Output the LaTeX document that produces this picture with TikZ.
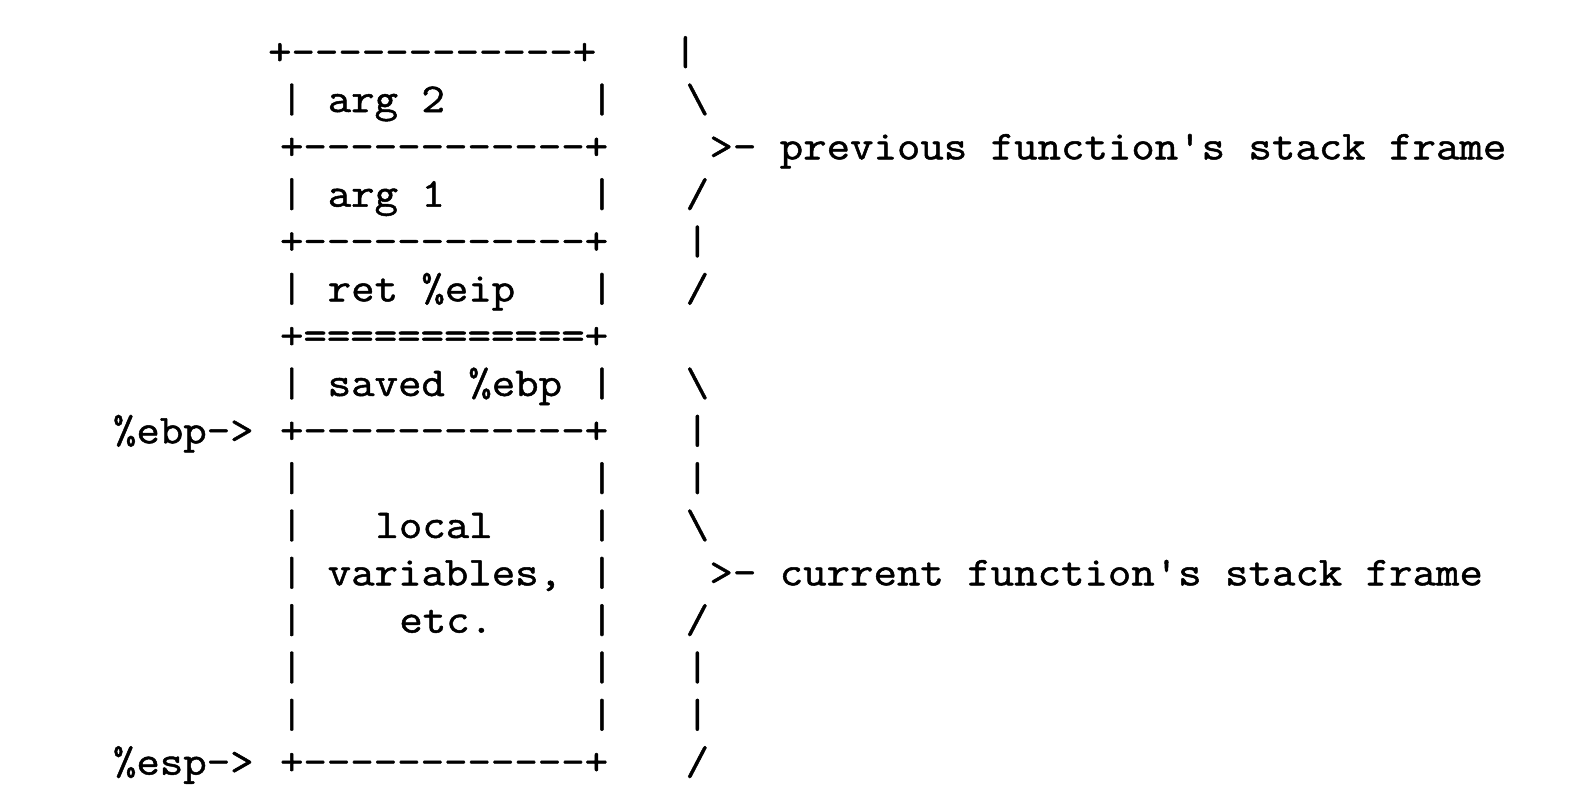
\documentclass[tikz,border=0pt]{standalone}
\usepackage{fontspec}
\setmonofont[FakeStretch=1.11,FakeBold=1.2,Ligatures=TeXOff]{Latin Modern Mono}
\newcommand\asc[4]{\node[txt] (#1) at ({113+(#3)*23.86},{64.7+(#2)*47.33}) {#4};}
\begin{document}
\begin{tikzpicture}[x=0.5pt,y=-0.5pt,
  txt/.style={anchor=base west,inner sep=0pt,outer sep=0pt,
    font=\ttfamily\fontsize{20.5}{24}\selectfont}]
\fill[white] (0,0) rectangle (1586,812);
\useasboundingbox (0,0) rectangle (1586,812);
% row 0 (shifted half a column to the left)
\asc{a0}{0}{6.5}{+------------+}
\asc{b0}{0}{23.5}{|}
% row 1
\asc{a1}{1}{7}{|}
\asc{t1}{1}{9}{arg 2}
\asc{c1}{1}{20}{|}
\asc{b1}{1}{24}{\textbackslash}
% row 2
\asc{a2}{2}{7}{+------------+}
\asc{p2}{2}{25}{>- previous function's stack frame}
% row 3
\asc{a3}{3}{7}{|}
\asc{t3}{3}{9}{arg 1}
\asc{c3}{3}{20}{|}
\asc{b3}{3}{24}{/}
% row 4
\asc{a4}{4}{7}{+------------+}
\asc{b4}{4}{24}{|}
% row 5
\asc{a5}{5}{7}{|}
\asc{t5}{5}{9}{ret \%eip}
\asc{c5}{5}{20}{|}
\asc{b5}{5}{24}{/}
% row 6
\asc{a6}{6}{7}{+============+}
% row 7
\asc{a7}{7}{7}{|}
\asc{t7}{7}{9}{saved \%ebp}
\asc{c7}{7}{20}{|}
\asc{b7}{7}{24}{\textbackslash}
% row 8
\asc{l8}{8}{0}{\%ebp->}
\asc{a8}{8}{7}{+------------+}
\asc{b8}{8}{24}{|}
% row 9
\asc{a9}{9}{7}{|}
\asc{c9}{9}{20}{|}
\asc{b9}{9}{24}{|}
% row 10
\asc{a10}{10}{7}{|}
\asc{t10}{10}{11}{local}
\asc{c10}{10}{20}{|}
\asc{b10}{10}{24}{\textbackslash}
% row 11
\asc{a11}{11}{7}{|}
\asc{t11}{11}{9}{variables,}
\asc{c11}{11}{20}{|}
\asc{p11}{11}{25}{>- current function's stack frame}
% row 12
\asc{a12}{12}{7}{|}
\asc{t12}{12}{12}{etc.}
\asc{c12}{12}{20}{|}
\asc{b12}{12}{24}{/}
% row 13
\asc{a13}{13}{7}{|}
\asc{c13}{13}{20}{|}
\asc{b13}{13}{24}{|}
% row 14
\asc{a14}{14}{7}{|}
\asc{c14}{14}{20}{|}
\asc{b14}{14}{24}{|}
% row 15
\asc{l15}{15}{0}{\%esp->}
\asc{a15}{15}{7}{+------------+}
\asc{b15}{15}{24}{/}
\end{tikzpicture}
\end{document}
